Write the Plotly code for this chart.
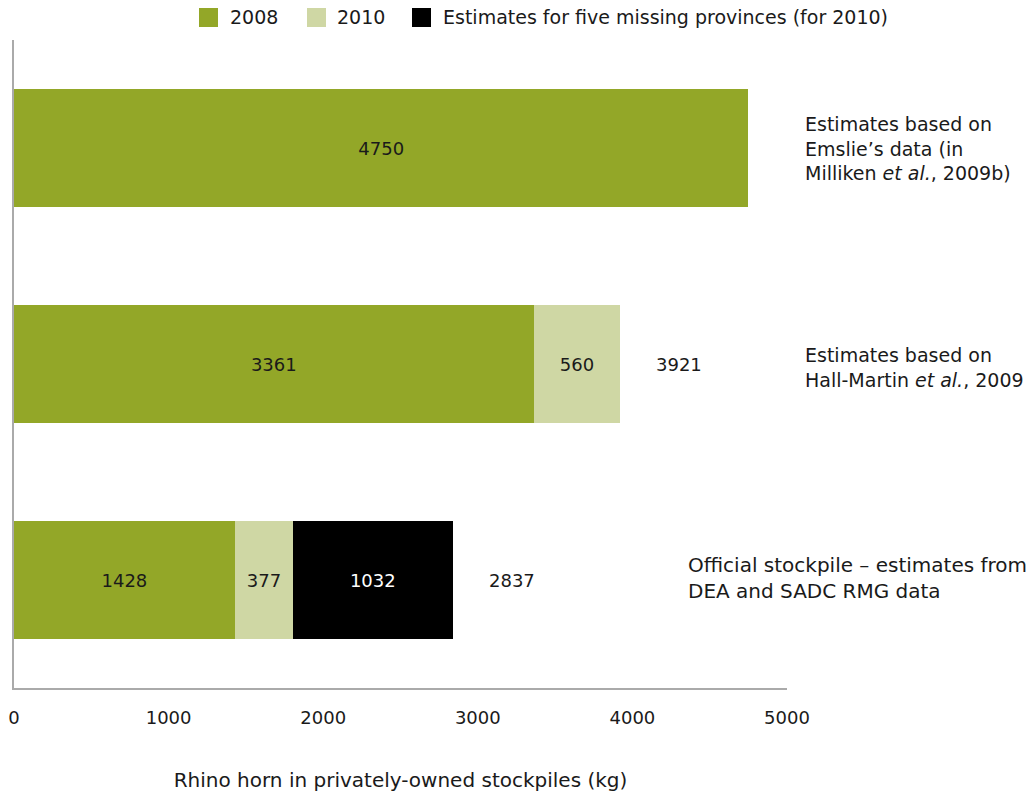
import plotly.graph_objects as go

categories = ["Official", "Hall-Martin", "Emslie"]
side_labels = [
    "Official stockpile – estimates from<br>DEA and SADC RMG data",
    "Estimates based on<br>Hall-Martin <i>et al.</i>, 2009",
    "Estimates based on<br>Emslie’s data (in<br>Milliken <i>et al.</i>, 2009b)",
]
v2008 = [1428, 3361, 4750]
v2010 = [377, 560, None]
v_missing = [1032, None, None]
totals = [2837, 3921, None]
series_names = ["2008", "2010", "Estimates for five missing provinces (for 2010)"]
x_ticks = [0, 1000, 2000, 3000, 4000, 5000]

C2008 = "#93a728"
C2010 = "#cfd7a4"
CMISS = "#000000"
TXT = "#1a1a1a"
FONT = "DejaVu Sans"

W, H = 1032, 795
ML, MR, MT, MB = 14, 245, 40, 107
PW, PH = W - ML - MR, H - MT - MB


def px2x(px):
    return (px - ML) / PW


def py2y(py):
    return (H - MB - py) / PH


fig = go.Figure()
for vals, col, tcol, name in [(v2008, C2008, TXT, series_names[0]),
                              (v2010, C2010, TXT, series_names[1]),
                              (v_missing, CMISS, "#ffffff", series_names[2])]:
    fig.add_trace(go.Bar(
        y=categories, x=vals, orientation="h", name=name,
        marker=dict(color=col, line=dict(width=0)),
        text=[("" if v is None else str(v)) for v in vals], textposition="inside",
        insidetextanchor="middle", textfont=dict(color=tcol, size=18, family=FONT),
        width=0.55, showlegend=False, hoverinfo="skip",
    ))

# totals next to stacked bars
for cat, t in zip(categories, totals):
    if t is not None:
        fig.add_annotation(x=t, y=cat, text=str(t), showarrow=False, xanchor="left",
                           xshift=34, font=dict(size=18, color=TXT, family=FONT))

# descriptive labels on the right
side_x = [px2x(686), px2x(803), px2x(803)]
side_yshift = [2.5, -3.5, 0]
side_size = [20, 19, 19]
for cat, lab, sx, ys, fs in zip(categories, side_labels, side_x, side_yshift, side_size):
    fig.add_annotation(x=sx, xref="paper", y=cat, text=lab, showarrow=False,
                       xanchor="left", align="left", yshift=ys,
                       font=dict(size=fs, color=TXT, family=FONT))

# legend (drawn manually to match spacing)
leg_sq_left = [199, 307, 412]
leg_txt_left = [228, 335, 441]
for name, col, sx, tx in zip(series_names, [C2008, C2010, CMISS], leg_sq_left, leg_txt_left):
    fig.add_shape(type="rect", xref="paper", yref="paper",
                  x0=px2x(sx), x1=px2x(sx + 19), y0=py2y(27), y1=py2y(8),
                  fillcolor=col, line=dict(width=0))
    fig.add_annotation(x=px2x(tx), y=py2y(17.5), xref="paper", yref="paper", text=name,
                       showarrow=False, xanchor="left", yanchor="middle",
                       font=dict(size=19, color=TXT, family=FONT))

fig.update_layout(
    width=W, height=H,
    margin=dict(l=ML, r=MR, t=MT, b=MB, autoexpand=False),
    barmode="stack",
    showlegend=False,
    plot_bgcolor="white", paper_bgcolor="white",
    font=dict(family=FONT, size=18, color=TXT),
    xaxis=dict(range=[0, 5000], tickvals=x_ticks, showgrid=False, zeroline=False,
               showline=True, linecolor="#aaaaaa", linewidth=1.5, ticks="",
               automargin=False, ticklabelstandoff=13,
               title=dict(text="Rhino horn in privately-owned stockpiles (kg)", standoff=46,
                          font=dict(size=20)),
               tickfont=dict(size=18)),
    yaxis=dict(showticklabels=False, showgrid=False, zeroline=False, showline=True,
               linecolor="#aaaaaa", linewidth=1.5, ticks="", range=[-0.5, 2.5],
               automargin=False),
)

fig.write_html("out.html", config={"displayModeBar": False},
               post_script="document.body.style.margin='0';")
